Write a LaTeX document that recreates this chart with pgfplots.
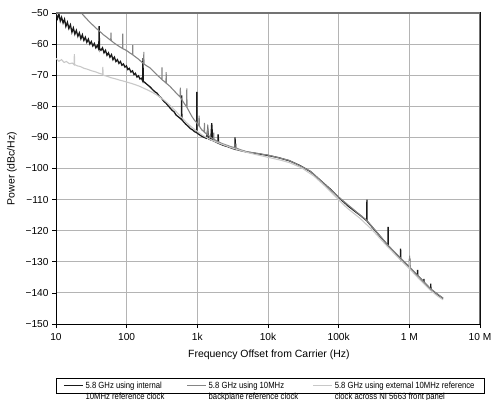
\documentclass[border=0pt]{standalone}
\usepackage{fontspec}
\setmainfont{Liberation Sans}
\newfontfamily\narrowfont[FakeStretch=0.86]{Liberation Sans}
\usepackage{pgfplots}
\pgfplotsset{compat=1.18}
\definecolor{cInt}{HTML}{1A1A1A}
\definecolor{cBack}{HTML}{858585}
\definecolor{cExt}{HTML}{C8C8C8}
\definecolor{cGrid}{HTML}{B4B4B4}
\begin{document}
\begin{tikzpicture}
\useasboundingbox (0,0) rectangle (492bp,400bp);
\begin{axis}[
  at={(56bp,76bp)}, anchor=south west,
  scale only axis, width=424bp, height=311bp,
  xmode=log, xmin=10, xmax=1e7, ymin=-150, ymax=-50,
  xtick={10,100,1000,10000,100000,1000000,10000000},
  xticklabels={10,100,1k,10k,100k,1 M,10 M},
  ytick={-150,-140,-130,-120,-110,-100,-90,-80,-70,-60,-50},
  yticklabels={−150,−140,−130,−120,−110,−100,−90,−80,−70,−60,−50},
  xminorticks=false, yminorticks=false,
  xmajorgrids=true, ymajorgrids=true,
  major grid style={draw=cGrid, line width=0.9bp},
  tick pos=left, tick align=outside, major tick length=4bp,
  major tick style={draw=black, line width=0.6bp},
  axis line style={draw=black, line width=1bp},
  ticklabel style={font=\fontsize{10.2}{12}\selectfont},
  xticklabel style={yshift=-2bp},
  label style={font=\fontsize{10.5}{12}\selectfont},
  xlabel={Frequency Offset from Carrier (Hz)},
  ylabel={Power (dBc/Hz)},
  xlabel style={at={(axis description cs:0.502,-0.1)}, anchor=center},
  ylabel style={at={(axis description cs:-0.104,0.5)}, anchor=center},
  legend columns=3,
  legend style={at={(0,-0.1736)}, anchor=north west, draw=black, line width=0.6bp,
    inner xsep=7bp, inner ysep=3.5bp, font=\narrowfont\fontsize{9}{11}\selectfont,
    nodes={inner sep=0pt},
    /tikz/every odd column/.style={column sep=2bp},
    /tikz/every even column/.style={column sep=0bp}},
  legend image code/.code={\draw[#1] (0bp,0bp) -- (19bp,0bp);},
  clip=true,
]
% internal (black)
\addplot[cInt, line width=1.3bp] table {
10 -50.3
10.5 -51.8
11 -50.2
11.5 -52.6
12 -51.4
12.6 -53.2
13.2 -52
13.8 -54.3
14.5 -53
15.2 -55
16 -53.8
16.8 -56.2
17.6 -54.8
18.5 -56.8
19.4 -55.6
20.4 -57.5
21.4 -56.4
22.5 -58.3
23.6 -57
24.8 -58.8
26 -57.8
27.3 -59.4
28.7 -58.4
30.1 -60
31.6 -59.2
33.2 -60.6
34.9 -59.8
36.6 -61.2
38.4 -60.4
40.3 -61.6
40.8 -54.2
41.3 -61.4
43.3 -62
45.5 -61.2
47.8 -62.8
50.2 -62
52.7 -63.6
55.3 -62.8
58 -64.2
61 -63.4
64 -65
67 -64.2
70.5 -65.6
74 -65
77.7 -66.2
81.6 -65.6
85.7 -66.8
90 -66.4
94.5 -67.4
99.2 -67
104 -68.2
109 -67.8
115 -69
121 -68.6
127 -69.8
133 -69.4
140 -70.6
147 -70.2
154 -71.2
162 -71
168 -71.8
170 -64.5
172 -72
180 -72.3
190 -72.8
200 -73.2
215 -73.8
230 -74.5
250 -75.3
270 -75.8
290 -76.8
310 -77.3
335 -78.4
360 -79
385 -79.8
410 -80.5
440 -81.3
470 -81.8
500 -82.8
540 -83.4
580 -84
595 -84.2
600 -76.5
605 -84.3
640 -85
690 -85.8
740 -86.4
800 -87.2
860 -87.6
920 -88.2
980 -88.5
985 -75.4
990 -88.6
1050 -89
1150 -89.6
1250 -90
1350 -90.3
1400 -87.5
1450 -90.5
1550 -90.8
1600 -85.4
1650 -91
1800 -91.4
1950 -91.8
1970 -89
2000 -91.9
2300 -92.5
2700 -93
3100 -93.5
3400 -93.8
3420 -90
3440 -93.8
4000 -94.2
5000 -94.7
7000 -95.2
10000 -95.8
14000 -96.5
20000 -97.5
28000 -99
40000 -101
55000 -103.8
75000 -106.5
100000 -109.3
140000 -112.3
200000 -115
250000 -116.8
251000 -110
252000 -116.9
350000 -120.7
500000 -124.8
501000 -118.8
503000 -125
700000 -128.3
750000 -129.2
752000 -125.8
755000 -129.3
1000000 -131.7
1010000 -129
1020000 -132
1300000 -134.4
1310000 -132.6
1320000 -134.5
1600000 -136.5
1610000 -135.5
1620000 -136.6
2000000 -138.8
2010000 -137
2020000 -138.9
2500000 -140.5
3000000 -141.8
};
\addlegendentry{\parbox[t]{101bp}{5.8 GHz using internal\\10MHz reference clock}}

% backplane (mid gray)
\addplot[cBack, line width=1.1bp] table {
18 -46.5
20 -48
22 -49.8
23 -40
23.5 -50.3
25 -51
27 -51.8
29 -52.6
31.5 -53.4
34 -54.1
37 -54.9
40 -55.6
43.5 -56.3
47 -57
51 -57.6
55 -58.2
59.5 -58.8
60 -56.3
60.5 -58.9
66 -59.6
72 -60.2
79 -60.8
87.5 -61.4
88 -56.6
88.5 -61.5
95 -61.8
103 -62.3
112 -62.9
121.5 -63.4
122 -60.3
122.5 -63.5
135 -64.2
148 -64.9
160 -65.6
174 -66.3
175 -62.5
176 -66.4
192 -67
213 -67.6
235 -68.6
260 -69.6
290 -70.6
315 -71.4
316 -67.5
318 -71.5
340 -72
360 -72.5
362 -69
365 -72.6
410 -73.6
460 -74.8
510 -75.9
570 -77
575 -74
580 -77.2
640 -78.8
705 -80.2
710 -74.2
715 -80.4
780 -82
850 -83.5
920 -84.6
1000 -85.5
1050 -86.2
1060 -83
1070 -86.4
1150 -87.5
1250 -88.3
1260 -85.3
1270 -88.4
1400 -89.2
1410 -86
1420 -89.3
1550 -90
1700 -90.6
1710 -88.5
1720 -90.6
1900 -91.2
2200 -91.9
2600 -92.5
3000 -93
3500 -93.4
3520 -92
3540 -93.4
4000 -93.9
5000 -94.6
10000 -95.7
20000 -97.4
40000 -100.9
100000 -109.2
250000 -116.7
500000 -124.7
1000000 -131.6
1010000 -128
1020000 -131.8
2000000 -138.7
3000000 -141.7
};
\addlegendentry{\parbox[t]{104bp}{5.8 GHz using 10MHz\\backplane reference clock}}

% external (light gray)
\addplot[cExt, line width=1.1bp] table {
10 -64.6
11 -65.5
12 -65
13 -65.9
14 -65.6
15.5 -66.3
17 -66.1
18 -66.6
18.2 -63.2
18.4 -66.6
20 -67
22 -67.2
25 -67.8
28 -68.1
32 -68.6
36 -68.9
41 -69.4
45.5 -69.7
46 -67.3
46.5 -70
52 -70.3
60 -70.8
70 -71.2
80 -71.6
90 -71.9
100 -72.2
115 -72.6
130 -73
150 -73.5
175 -74.2
200 -74.8
230 -75.5
260 -76.2
300 -77.1
350 -78.3
400 -79.5
460 -80.8
530 -82.3
600 -83.6
700 -85.2
800 -86.4
900 -87.3
1000 -88.1
1200 -89.4
1500 -90.6
2000 -91.8
3000 -93.3
5000 -94.8
7000 -95.6
10000 -96.4
15000 -97.3
20000 -98.1
30000 -99.8
45000 -102.5
65000 -105.8
90000 -109
130000 -112.6
200000 -116
300000 -119.8
500000 -125.3
700000 -128.7
1000000 -132.2
1010000 -129.8
1020000 -132.4
1500000 -136.4
2000000 -139.2
2500000 -141
3000000 -142.2
};
\addlegendentry{\parbox[t]{142bp}{5.8 GHz using external 10MHz reference\\clock across NI 5663 front panel}}

% frame: top and right in gray
\draw[color=black!55, line width=1.1bp] (rel axis cs:0,1) -- (rel axis cs:1,1) -- (rel axis cs:1,0);
\end{axis}
\end{tikzpicture}
\end{document}
